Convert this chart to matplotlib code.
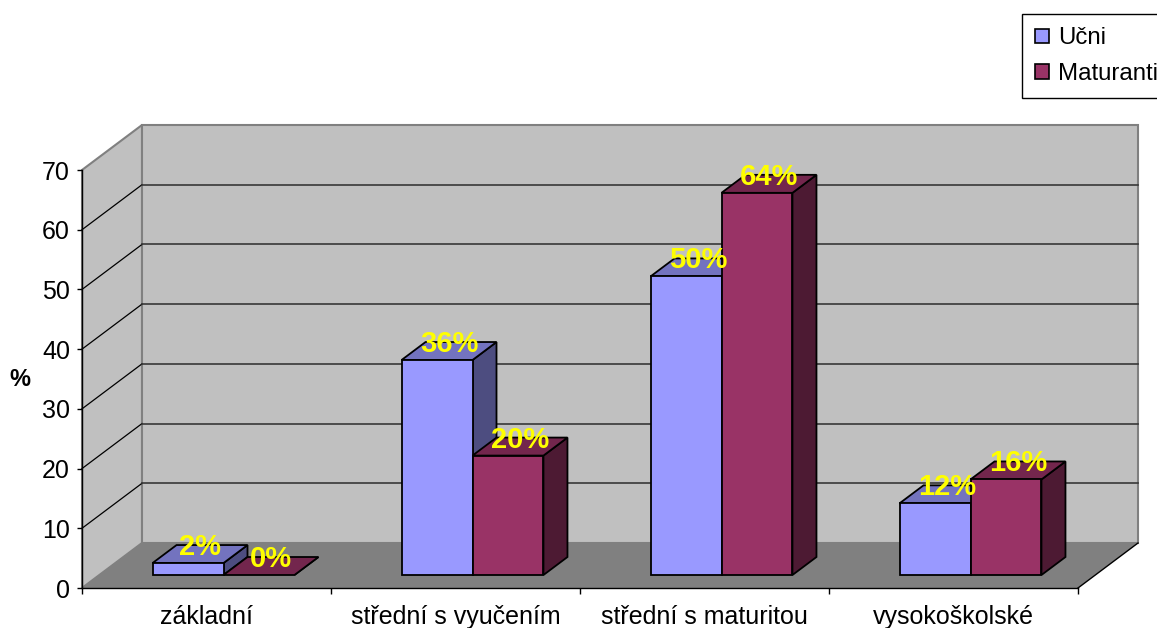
import matplotlib
matplotlib.use('Agg')
import matplotlib.pyplot as plt
from matplotlib.patches import Polygon, Rectangle

# ---------------- data ----------------
categories = ['základní', 'střední s vyučením', 'střední s maturitou', 'vysokoškolské']
series_names = ['Učni', 'Maturanti']
ucni = [2, 36, 50, 12]
maturanti = [0, 20, 64, 16]
y_ticks = [0, 10, 20, 30, 40, 50, 60, 70]
y_label = '%'

# ---------------- style ----------------
front_colors = ['#9999FF', '#993366']
top_colors = ['#7373BF', '#73264D']
side_colors = ['#4D4D80', '#4D1A33']
wall_color = '#C0C0C0'
floor_color = '#808080'

plt.rcParams['font.family'] = ['Liberation Sans', 'DejaVu Sans']

W, H = 1157, 628
fig = plt.figure(figsize=(W / 100, H / 100), dpi=100)
fig.patch.set_facecolor('white')
ax = fig.add_axes([82 / W, 40 / H, 996 / W, 418 / H])
ncat = len(categories)
ymax = y_ticks[-1]
ax.set_xlim(0, ncat)
ax.set_ylim(0, ymax)
ax.patch.set_visible(False)

# conversion of pixel offsets (oblique depth) into data units
bb = ax.get_position()
sx = ncat / (bb.width * W)      # data x per pixel
sy = ymax / (bb.height * H)     # data y per pixel


def d(px, py):
    return px * sx, py * sy


wdx, wdy = d(60, 45)     # wall depth
bfx, bfy = d(17, 13)     # bar front plane offset
bdx, bdy = d(24, 18)     # bar depth
bar_w = 0.285

kw = dict(clip_on=False)

# side wall
ax.add_patch(Polygon([(0, 0), (0, ymax), (wdx, ymax + wdy), (wdx, wdy)],
                     closed=True, facecolor=wall_color, edgecolor='#808080', lw=1.5, zorder=1, **kw))
# back wall
ax.add_patch(Polygon([(wdx, wdy), (ncat + wdx, wdy), (ncat + wdx, ymax + wdy), (wdx, ymax + wdy)],
                     closed=True, facecolor=wall_color, edgecolor='#808080', lw=1.5, zorder=1, **kw))
# gridlines
for v in y_ticks[1:-1]:
    ax.plot([0, wdx], [v, v + wdy], color='black', lw=0.9, zorder=1.5, **kw)
    ax.plot([wdx, ncat + wdx], [v + wdy, v + wdy], color='#383838', lw=1.2, zorder=1.5, **kw)
# floor
ax.add_patch(Polygon([(0, 0), (ncat, 0), (ncat + wdx, wdy), (wdx, wdy)],
                     closed=True, facecolor=floor_color, edgecolor='none', zorder=2, **kw))
ax.plot([ncat, ncat + wdx], [0, wdy], color='black', lw=1.0, zorder=2.1, **kw)

# bars
series = [ucni, maturanti]
z = 3
for i in range(ncat):
    for j, vals in enumerate(series):
        v = vals[i]
        x0 = i + 0.5 - bar_w + j * bar_w + bfx
        y0 = bfy
        ec = dict(edgecolor='black', lw=1.3, joinstyle='miter')
        side = [(x0 + bar_w, y0), (x0 + bar_w, y0 + v), (x0 + bar_w + bdx, y0 + v + bdy), (x0 + bar_w + bdx, y0 + bdy)]
        top = [(x0, y0 + v), (x0 + bar_w, y0 + v), (x0 + bar_w + bdx, y0 + v + bdy), (x0 + bdx, y0 + v + bdy)]
        ax.add_patch(Polygon(side, closed=True, facecolor=side_colors[j], zorder=z, **ec, **kw))
        ax.add_patch(Polygon(top, closed=True, facecolor=top_colors[j], zorder=z, **ec, **kw))
        if v > 0:
            ax.add_patch(Rectangle((x0, y0), bar_w, v, facecolor=front_colors[j], zorder=z, **ec, **kw))
        z += 0.01
        lx = x0 + bar_w / 2 + bdx / 2
        ly = y0 + v + 8 * sy
        ax.text(lx, ly, f'{v}%', ha='center', va='baseline', fontsize=21, fontweight='bold',
                color='#FFFF00', zorder=10, clip_on=False)

# axes / spines
for s in ['top', 'right']:
    ax.spines[s].set_visible(False)
for s in ['left', 'bottom']:
    ax.spines[s].set_color('black')
    ax.spines[s].set_linewidth(1.0)
    ax.spines[s].set_zorder(2.5)

ax.set_yticks(y_ticks)
ax.set_yticklabels([str(t) for t in y_ticks])
ax.tick_params(axis='y', direction='out', length=3.6, width=1, pad=5, labelsize=18)

ax.set_xticks([i + 0.5 for i in range(ncat)])
ax.set_xticklabels(categories)
ax.set_xticks(list(range(ncat + 1)), minor=True)
ax.tick_params(axis='x', which='major', length=0, pad=12, labelsize=18)
ax.tick_params(axis='x', which='minor', direction='out', length=4.3, width=1)

ax.set_ylabel(y_label, rotation=0, fontsize=17, fontweight='bold', va='center', ha='center')
ax.yaxis.set_label_coords((20 - 82) / 996, (588 - 380) / 418)

# legend
handles = [Rectangle((0, 0), 1, 1, facecolor=c, edgecolor='black', lw=1.2) for c in front_colors]
leg = fig.legend(handles, series_names, loc='upper left', bbox_to_anchor=(1022 / W, 1 - 14 / H),
                 fontsize=17.3, frameon=True, fancybox=False, framealpha=1, edgecolor='black',
                 handlelength=0.58, handleheight=0.58, handletextpad=0.35, labelspacing=0.55,
                 borderpad=0.56, borderaxespad=0)
leg.get_frame().set_linewidth(1.0)

fig.savefig('out.png', dpi=100)
